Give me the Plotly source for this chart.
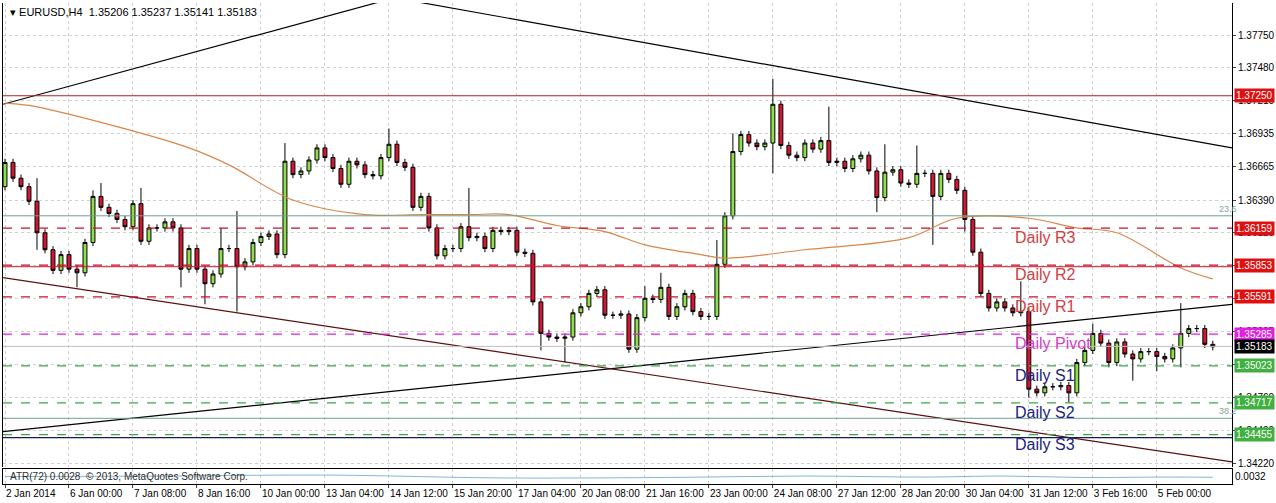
import plotly.graph_objects as go

# Velas H4 EURUSD (cierres)
closes = [
    1.3670, 1.3657, 1.3650, 1.3638, 1.3612, 1.3598, 1.3581, 1.3594, 1.3582, 1.3579, 1.3604, 1.3642, 1.3633, 1.3628, 1.3623, 1.3617,
    1.3636, 1.3605, 1.3616, 1.3616, 1.3621, 1.3616, 1.3582, 1.3599, 1.3582, 1.3570, 1.3578, 1.3599, 1.3599, 1.3584, 1.3588, 1.3604,
    1.3609, 1.3611, 1.3594, 1.3671, 1.3660, 1.3663, 1.3672, 1.3682, 1.3674, 1.3665, 1.3652, 1.3671, 1.3668, 1.3660, 1.3659, 1.3674,
    1.3685, 1.3670, 1.3666, 1.3633, 1.3642, 1.3616, 1.3593, 1.3599, 1.3599, 1.3617, 1.3608, 1.3609, 1.3599, 1.3614, 1.3613, 1.3614,
    1.3596, 1.3595, 1.3555, 1.3529, 1.3526, 1.3525, 1.3526, 1.3546, 1.3551, 1.3562, 1.3565, 1.3544, 1.3544, 1.3545, 1.3516, 1.3542,
    1.3558, 1.3557, 1.3567, 1.3543, 1.3551, 1.3562, 1.3547, 1.3543, 1.3543, 1.3586, 1.3626, 1.3679, 1.3693, 1.3686, 1.3683, 1.3686,
    1.3718, 1.3684, 1.3676, 1.3674, 1.3686, 1.3681, 1.3688, 1.3670, 1.3671, 1.3665, 1.3673, 1.3676, 1.3663, 1.3641, 1.3662, 1.3664,
    1.3653, 1.3652, 1.3661, 1.3661, 1.3642, 1.3661, 1.3656, 1.3647, 1.3623, 1.3596, 1.3562, 1.3550, 1.3555, 1.3550, 1.3546, 1.3547,
    1.3483, 1.3480, 1.3485, 1.3485, 1.3486, 1.3480, 1.3505, 1.3515, 1.3529, 1.3521, 1.3505, 1.3522, 1.3512, 1.3508, 1.3514, 1.3514,
    1.3510, 1.3508, 1.3517, 1.3529, 1.3533, 1.3533, 1.3520, 1.3518,
]
first_open = 1.3650

# Mechas superiores / inferiores en pips
upper_wick = [
    3, 3, 3, 3, 19, 3, 3, 3, 3, 3, 3, 5, 11, 3, 3, 3,
    3, 13, 3, 3, 3, 3, 3, 3, 3, 3, 3, 17, 3, 31, 3, 3,
    3, 3, 3, 15, 3, 3, 3, 3, 3, 3, 3, 3, 3, 3, 3, 3,
    13, 3, 3, 3, 3, 3, 3, 3, 3, 3, 32, 3, 3, 3, 3, 3,
    3, 3, 3, 3, 3, 3, 3, 3, 3, 3, 3, 3, 3, 3, 3, 3,
    10, 3, 12, 3, 3, 3, 3, 3, 3, 20, 3, 15, 3, 3, 3, 3,
    21, 3, 3, 3, 3, 3, 3, 28, 3, 3, 3, 3, 3, 3, 23, 3,
    3, 3, 23, 3, 3, 3, 3, 3, 3, 3, 3, 3, 3, 3, 3, 25,
    3, 3, 3, 3, 3, 3, 3, 3, 8, 3, 3, 3, 3, 3, 3, 3,
    3, 3, 3, 25, 3, 3, 3, 3,
]
lower_wick = [
    3, 3, 3, 3, 14, 3, 3, 3, 3, 12, 3, 3, 3, 3, 3, 3,
    3, 3, 3, 3, 3, 3, 15, 3, 3, 17, 3, 3, 3, 37, 3, 3,
    3, 3, 3, 3, 3, 3, 3, 3, 3, 3, 3, 3, 3, 3, 3, 3,
    3, 3, 3, 3, 3, 3, 3, 3, 3, 3, 3, 3, 3, 3, 3, 3,
    3, 3, 3, 14, 3, 3, 20, 3, 3, 3, 3, 3, 3, 3, 3, 3,
    3, 3, 3, 3, 3, 3, 3, 3, 3, 3, 3, 3, 3, 3, 3, 3,
    25, 3, 3, 3, 3, 3, 3, 3, 3, 3, 3, 3, 3, 12, 3, 3,
    3, 3, 3, 3, 40, 3, 3, 3, 10, 3, 3, 3, 3, 3, 3, 3,
    7, 3, 3, 3, 3, 8, 3, 3, 3, 3, 4, 3, 3, 18, 3, 3,
    12, 3, 3, 16, 3, 3, 3, 3,
]

opens = [first_open] + closes[:-1]
highs = [max(o, c) + w / 10000 for o, c, w in zip(opens, closes, upper_wick)]
lows = [min(o, c) - w / 10000 for o, c, w in zip(opens, closes, lower_wick)]
idx = list(range(len(closes)))

# Media movil (puntos leidos)
ma_idx = [0, 3, 12, 23, 28, 36, 45, 52, 58, 63, 69, 75, 80, 87, 90, 100, 113, 119, 128, 134, 139, 147, 151]
ma_val = [1.3719, 1.3717, 1.3703, 1.3682, 1.3668, 1.3639, 1.3627, 1.3627, 1.3627, 1.3627, 1.3618, 1.3613,
          1.3602, 1.3594, 1.3591, 1.3598, 1.3608, 1.3624, 1.3624, 1.3616, 1.3612, 1.3583, 1.3574]

# ATR(72)
atr_idx = [0, 20, 40, 60, 70, 85, 100, 115, 125, 135, 145, 151]
atr_val = [0.00290, 0.00292, 0.00296, 0.00285, 0.00284, 0.00287, 0.00292, 0.00288, 0.00292, 0.00286, 0.00288, 0.00287]

tick_labels = ["2 Jan 2014", "6 Jan 00:00", "7 Jan 08:00", "8 Jan 16:00", "10 Jan 00:00", "13 Jan 04:00",
               "14 Jan 12:00", "15 Jan 20:00", "17 Jan 04:00", "20 Jan 08:00", "21 Jan 16:00", "23 Jan 00:00",
               "24 Jan 08:00", "27 Jan 12:00", "28 Jan 20:00", "30 Jan 04:00", "31 Jan 12:00", "3 Feb 16:00",
               "5 Feb 00:00"]
tick_pos = list(range(0, 152, 8))
price_ticks = [1.34220, 1.34490, 1.34760, 1.35035, 1.35305, 1.35580, 1.35850, 1.36120,
               1.36390, 1.36665, 1.36935, 1.37210, 1.37480, 1.37750]

# Pivotes diarios
pivot_names = ["Daily R3", "Daily R2", "Daily R1", "Daily Pivot", "Daily S1", "Daily S2", "Daily S3"]
pivot_vals = [1.36159, 1.35853, 1.35591, 1.35285, 1.35023, 1.34717, 1.34455]
pivot_cols = ["#c8102e", "#c8102e", "#c8102e", "#e020e0", "#3aa84a", "#3aa84a", "#3aa84a"]
pivot_text = ["#d04040", "#d04040", "#d04040", "#d040d0", "#1a237e", "#1a237e", "#1a237e"]

# Lineas de tendencia: (i0, p0, i1, p1)
trend_lines = [
    (-0.25, 1.3718, 46.6, 1.3802, "black"),
    (51.9, 1.3802, 153.4, 1.3682, "black"),
    (-0.25, 1.3448, 153.4, 1.3553, "black"),
    (-0.25, 1.3575, 153.4, 1.3423, "#5a1010"),
]

FONT = "Liberation Sans"

fig = go.Figure()

for name, v, c in zip(pivot_names, pivot_vals, pivot_cols):
    fig.add_hline(y=v, line=dict(color=c, width=1.2, dash="dash"), yref="y")
fig.add_hline(y=1.37250, line=dict(color="#b02020", width=1))
fig.add_hline(y=1.35840, line=dict(color="#c8102e", width=1))
fig.add_hline(y=1.3626, line=dict(color="#70a090", width=1))
fig.add_hline(y=1.3459, line=dict(color="#70a090", width=1))
fig.add_hline(y=1.3443, line=dict(color="#1a1a50", width=1.2))
fig.add_hline(y=1.35183, line=dict(color="#c0c0c0", width=1))

for x0, y0, x1, y1, c in trend_lines:
    fig.add_trace(go.Scatter(x=[x0, x1], y=[y0, y1], mode="lines", line=dict(color=c, width=1.2),
                             hoverinfo="skip", showlegend=False))

fig.add_trace(go.Scatter(x=ma_idx, y=ma_val, mode="lines", line=dict(color="#d9864a", width=1.2),
                         line_shape="spline", showlegend=False))

fig.add_trace(go.Candlestick(
    x=idx, open=opens, high=highs, low=lows, close=closes,
    increasing=dict(fillcolor="#8ee04a", line=dict(color="black", width=1)),
    decreasing=dict(fillcolor="#d01830", line=dict(color="black", width=1)),
    whiskerwidth=0, showlegend=False,
))

fig.add_trace(go.Scatter(x=atr_idx, y=atr_val, mode="lines", line=dict(color="#7fb8d8", width=1),
                         line_shape="spline", yaxis="y2", showlegend=False))

for name, v, c in zip(pivot_names, pivot_vals, pivot_text):
    fig.add_annotation(x=126, y=v, text=name, showarrow=False, xanchor="left", yanchor="top",
                       yshift=1, font=dict(family=FONT, size=16, color=c))

boxes = [(1.37250, "#e01010"), (1.36159, "#e01010"), (1.35853, "#e01010"), (1.35591, "#e01010"),
         (1.35285, "#e020e0"), (1.35183, "#000000"), (1.35023, "#40b040"), (1.34717, "#40b040"),
         (1.34455, "#40b040")]
for v, c in boxes:
    fig.add_annotation(x=1, xref="paper", y=v, text=f"{v:.5f}", showarrow=False, xanchor="left",
                       xshift=2, bgcolor=c, borderpad=1, font=dict(family=FONT, size=10, color="white"))

fig.add_annotation(x=151.5, y=1.3626, text="23.6", showarrow=False, xanchor="left", yanchor="bottom",
                   font=dict(family=FONT, size=9, color="#80a898"))
fig.add_annotation(x=151.5, y=1.3459, text="38.2", showarrow=False, xanchor="left", yanchor="bottom",
                   font=dict(family=FONT, size=9, color="#80a898"))

fig.add_annotation(x=0.004, y=0.997, xref="paper", yref="paper", xanchor="left", yanchor="top",
                   text="▾ EURUSD,H4  1.35206 1.35237 1.35141 1.35183", showarrow=False,
                   font=dict(family=FONT, size=11, color="black"))
fig.add_annotation(x=0.004, y=0.016, xref="paper", yref="paper", xanchor="left", yanchor="middle",
                   text="ATR(72) 0.0028  © 2013, MetaQuotes Software Corp.", showarrow=False,
                   font=dict(family=FONT, size=10, color="#303030"))

fig.update_layout(
    width=1276, height=503,
    margin=dict(l=3, r=44, t=3, b=19),
    paper_bgcolor="white", plot_bgcolor="white",
    showlegend=False,
    xaxis=dict(range=[-0.25, 153.4], tickvals=tick_pos, ticktext=tick_labels, rangeslider=dict(visible=False),
               showgrid=True, gridcolor="#d0d0d0", griddash="dot", zeroline=False, automargin=False,
               tickangle=0, ticklabelposition="outside right",
               showline=True, linecolor="black", mirror=True, ticks="outside", ticklen=3,
               tickfont=dict(family=FONT, size=10, color="black"), anchor="y2"),
    yaxis=dict(domain=[0.035, 1], range=[1.34187, 1.38015], side="right", tickvals=price_ticks,
               tickformat=".5f", showgrid=True, gridcolor="#d0d0d0", griddash="dot", zeroline=False,
               automargin=False, showline=True, linecolor="black", mirror=True, ticks="outside", ticklen=3,
               tickfont=dict(family=FONT, size=10, color="black")),
    yaxis2=dict(domain=[0, 0.031], range=[0.0026, 0.0032], side="right", tickvals=[0.0029],
                ticktext=["0.0032"], showgrid=False, zeroline=False, showline=True, linecolor="black",
                automargin=False, mirror=True, tickfont=dict(family=FONT, size=10, color="black")),
)

fig.write_html("out.html", config={"displayModeBar": False},
               post_script="document.body.style.margin='0';")
